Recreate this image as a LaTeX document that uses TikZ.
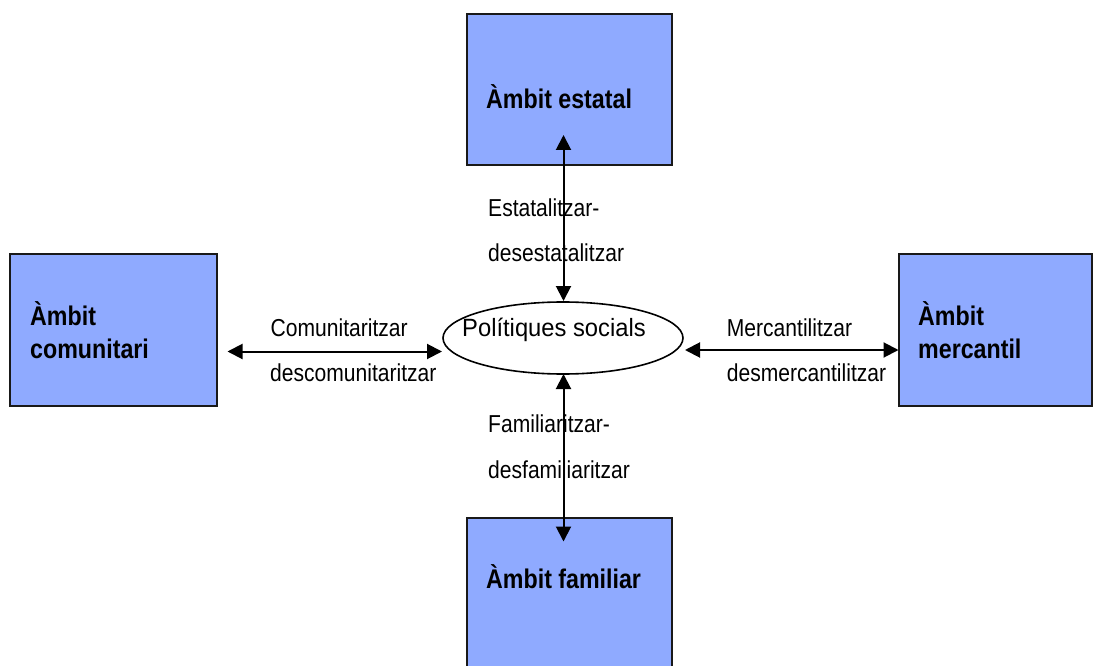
\documentclass[tikz,border=0pt]{standalone}
\usepackage{fontspec}
\setmainfont{Liberation Sans}[FakeStretch=0.86]
\newfontfamily\polfont{Liberation Sans}[FakeStretch=0.95]
\usetikzlibrary{arrows.meta,shapes.geometric}
\definecolor{boxblue}{RGB}{143,170,255}
\tikzset{
  ambox/.style={draw=black!90,line width=1.6pt,fill=boxblue},
  boxtext/.style={anchor=base west,inner sep=0pt,font=\bfseries\fontsize{27}{33}\selectfont,align=left},
  lbl/.style={anchor=base west,inner sep=0pt,font=\fontsize{24.5}{28}\selectfont},
  biarrow/.style={line width=2pt,{Triangle[length=15pt,width=15pt]}-{Triangle[length=15pt,width=15pt]}},
}
\begin{document}
\begin{tikzpicture}[x=1pt,y=-1pt]
\useasboundingbox (0,0) rectangle (1093,666);
\clip (0,0) rectangle (1093,666);
% boxes
\draw[ambox] (467,14) rectangle (672,165);
\draw[ambox] (10,254) rectangle (217,406);
\draw[ambox] (899,254) rectangle (1092,406);
\draw[ambox] (467,518) rectangle (672,690);
\node[boxtext] (tE) at (486,109) {Àmbit estatal};
\node[boxtext] (tC1) at (30,325) {Àmbit};
\node[boxtext] (tC2) at (30,358.5) {comunitari};
\node[boxtext] (tM1) at (918,325) {Àmbit};
\node[boxtext] (tM2) at (918,358.5) {mercantil};
\node[boxtext] (tF) at (486,588.5) {Àmbit familiar};
% ellipse
\node[draw,ellipse,line width=1.6pt,minimum width=240pt,minimum height=72pt,inner sep=0pt] (E) at (563,338) {};
\node[anchor=base west,inner sep=0pt,font=\polfont\fontsize{25}{30}\selectfont] (P) at (462,336.5) {Polítiques socials};
% labels
\node[lbl] (l1) at (488,216.7) {Estatalitzar-};
\node[lbl] (l2) at (488,261.7) {desestatalitzar};
\node[lbl] (l3) at (270.5,336.7) {Comunitaritzar};
\node[lbl] (l4) at (270,381.7) {descomunitaritzar};
\node[lbl] (l5) at (726.7,336.7) {Mercantilitzar};
\node[lbl] (l6) at (726.7,381.7) {desmercantilitzar};
\node[lbl] (l7) at (488,432.7) {Familiaritzar-};
\node[lbl] (l8) at (488,478.3) {desfamiliaritzar};
% arrow end points
\coordinate (aT) at (563.5,135);
\coordinate (aTe) at (563.5,301);
\coordinate (aB) at (563.5,541.5);
\coordinate (aBe) at (563.5,374);
\coordinate (aL) at (227.5,351.5);
\coordinate (aLe) at (442,351.5);
\coordinate (aR) at (898.5,350);
\coordinate (aRe) at (685,350);
\draw[biarrow] (aT) -- (aTe);
\draw[biarrow] (aBe) -- (aB);
\draw[biarrow] (aL) -- (aLe);
\draw[biarrow] (aRe) -- (aR);
\end{tikzpicture}
\end{document}
